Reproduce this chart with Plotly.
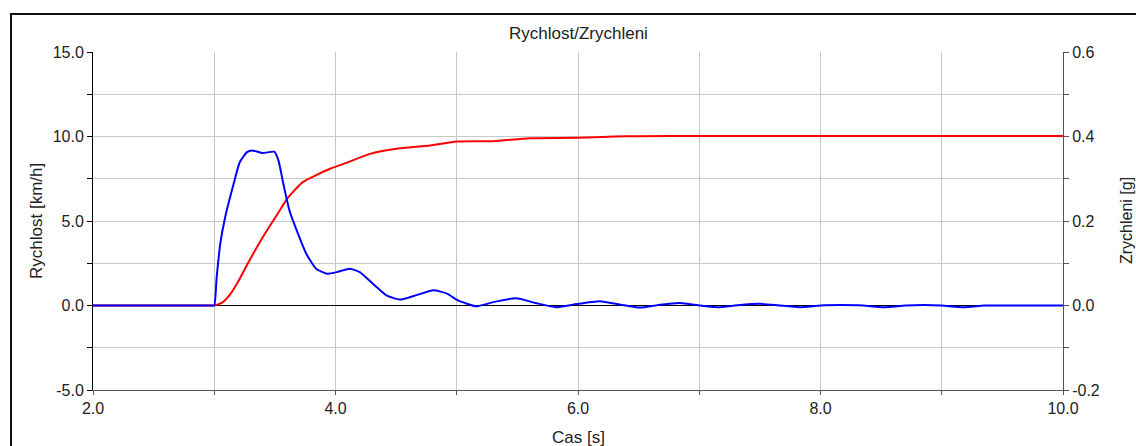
import plotly.graph_objects as go

# ---- data ----
t_speed = [2.0, 2.5, 2.9, 3.0, 3.06, 3.13, 3.2, 3.27, 3.40, 3.54, 3.60, 3.73, 3.955, 4.09,
           4.285, 4.50, 4.78, 5.0, 5.3, 5.6, 6.0, 6.3, 6.5, 7.0, 8.0, 9.0, 10.0]
speed_kmh = [0.0, 0.0, 0.0, 0.0, 0.15, 0.65, 1.45, 2.40, 4.04, 5.62, 6.31, 7.30, 8.09, 8.44,
             8.97, 9.27, 9.47, 9.70, 9.72, 9.90, 9.92, 10.0, 10.02, 10.03, 10.03, 10.03, 10.03]

t_acc = [2.0, 2.5, 2.9, 2.98, 3.0, 3.02, 3.05, 3.09, 3.16, 3.21, 3.27, 3.31, 3.40, 3.495, 3.53,
         3.57, 3.62, 3.68, 3.76, 3.84, 3.93, 4.01, 4.12, 4.20, 4.31, 4.42, 4.53, 4.64, 4.81,
         4.92, 5.01, 5.16, 5.30, 5.49, 5.65, 5.82, 5.96, 6.18, 6.35, 6.51, 6.68, 6.84,
         7.01, 7.17, 7.36, 7.50, 7.66, 7.83, 8.0, 8.17, 8.35, 8.52, 8.7, 8.85, 9.0,
         9.18, 9.35, 9.5, 9.75, 10.0]
acc_g = [0.0, 0.0, 0.0, 0.0, 0.0, 0.067, 0.147, 0.209, 0.288, 0.339, 0.363, 0.367, 0.361, 0.364,
         0.343, 0.288, 0.225, 0.178, 0.122, 0.087, 0.075, 0.079, 0.087, 0.079, 0.051, 0.024,
         0.014, 0.022, 0.036, 0.028, 0.012, -0.002, 0.008, 0.017, 0.006, -0.004, 0.002,
         0.010, 0.002, -0.005, 0.002, 0.006, 0.0, -0.004, 0.002, 0.004, 0.0, -0.004, 0.0,
         0.001, 0.0, -0.004, 0.0, 0.001, 0.0, -0.004, 0.0, 0.0, 0.0, 0.0]

x_ticks = [2, 3, 4, 5, 6, 7, 8, 9, 10]
x_labels = ["2.0", "", "4.0", "", "6.0", "", "8.0", "", "10.0"]
y_ticks = [-5, -2.5, 0, 2.5, 5, 7.5, 10, 12.5, 15]
y_labels = ["-5.0", "", "0.0", "", "5.0", "", "10.0", "", "15.0"]
y2_ticks = [-0.2, -0.1, 0.0, 0.1, 0.2, 0.3, 0.4, 0.5, 0.6]
y2_labels = ["-0.2", "", "0.0", "", "0.2", "", "0.4", "", "0.6"]

title = "Rychlost/Zrychleni"
x_title = "Cas [s]"
y_title = "Rychlost [km/h]"
y2_title = "Zrychleni [g]"

FONT = "Liberation Sans, Arial, Helvetica, sans-serif"

fig = go.Figure()
fig.add_trace(go.Scatter(x=t_speed, y=speed_kmh, mode="lines", yaxis="y",
                         line=dict(color="#ff0000", width=2, shape="spline", smoothing=0.5),
                         hoverinfo="skip", showlegend=False))
fig.add_trace(go.Scatter(x=t_acc, y=acc_g, mode="lines", yaxis="y2",
                         line=dict(color="#0000ff", width=2, shape="spline", smoothing=0.5),
                         hoverinfo="skip", showlegend=False))

L, R, T, B = 93, 73, 52, 56
W, H = 1136, 446
pw, ph = W - L - R, H - T - B

def px(x):
    return (x - L) / pw

def py(y):
    return (H - B - y) / ph

fig.update_layout(
    width=W, height=H,
    margin=dict(l=L, r=R, t=T, b=B, pad=0),
    paper_bgcolor="white", plot_bgcolor="white",
    font=dict(family=FONT, size=16, color="#222"),
    xaxis=dict(range=[2, 10], tickvals=x_ticks, ticktext=x_labels,
               showgrid=True, gridcolor="#c8c8c8", gridwidth=1,
               showline=True, linecolor="#555", linewidth=1,
               ticks="outside", ticklen=4, tickcolor="#555",
               tickfont=dict(size=16),
               zeroline=False, fixedrange=True),
    yaxis=dict(range=[-5, 15], tickvals=y_ticks, ticktext=y_labels,
               showgrid=True, gridcolor="#c8c8c8", gridwidth=1,
               showline=True, linecolor="#000", linewidth=1,
               ticks="outside", ticklen=5, tickcolor="#000",
               tickfont=dict(size=16),
               zeroline=True, zerolinecolor="#000", zerolinewidth=1,
               fixedrange=True),
    yaxis2=dict(range=[-0.2, 0.6], tickvals=y2_ticks, ticktext=y2_labels,
                overlaying="y", side="right", showgrid=False,
                showline=True, linecolor="#555", linewidth=1,
                ticks="outside", ticklen=5, tickcolor="#555",
                tickfont=dict(size=16),
                zeroline=False, fixedrange=True),
    shapes=[dict(type="rect", xref="paper", yref="paper",
                 x0=px(11), x1=px(1145), y0=py(460), y1=py(14),
                 line=dict(color="#111", width=2), fillcolor="rgba(0,0,0,0)", layer="above")],
    annotations=[
        dict(text=title, xref="paper", yref="paper", x=0.5, y=py(33),
             xanchor="center", yanchor="middle", showarrow=False, font=dict(size=17)),
        dict(text=x_title, xref="paper", yref="paper", x=0.5, y=py(437),
             xanchor="center", yanchor="middle", showarrow=False, font=dict(size=17)),
        dict(text=y_title, xref="paper", yref="paper", x=px(36), y=py(221),
             xanchor="center", yanchor="middle", showarrow=False, textangle=-90,
             font=dict(size=17)),
        dict(text=y2_title, xref="paper", yref="paper", x=px(1126), y=py(221),
             xanchor="center", yanchor="middle", showarrow=False, textangle=-90,
             font=dict(size=16)),
    ],
)

fig.write_html("out.html")
